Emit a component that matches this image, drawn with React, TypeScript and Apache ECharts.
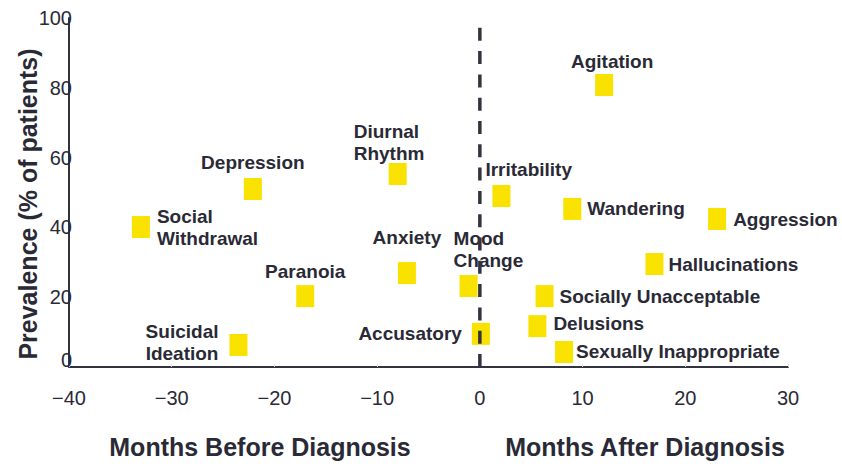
import React, { useEffect, useRef } from 'react';
import * as echarts from 'echarts';

// ---- data ----
const symptoms = [
  'Social\nWithdrawal',
  'Depression',
  'Suicidal\nIdeation',
  'Paranoia',
  'Diurnal\nRhythm',
  'Anxiety',
  'Accusatory',
  'Mood\nChange',
  'Irritability',
  'Agitation',
  'Wandering',
  'Aggression',
  'Hallucinations',
  'Socially Unacceptable',
  'Delusions',
  'Sexually Inappropriate',
];
const monthsFromDiagnosis = [-33.0, -22.1, -23.5, -17.0, -8.0, -7.1, 0.1, -1.1, 2.1, 12.1, 9.0, 23.1, 17.0, 6.3, 5.6, 8.2];
const prevalencePct = [40.1, 51.0, 6.3, 20.3, 55.3, 26.9, 9.5, 23.2, 49.0, 80.8, 45.3, 42.4, 29.5, 20.3, 11.7, 4.3];
const xRange = [-40, 30];
const yRange = [0, 100];
const diagnosisMonth = 0;
const xAxisTitles = ['Months Before Diagnosis', 'Months After Diagnosis'];
const yAxisTitle = 'Prevalence (% of patients)';

// ---- label placement (style only) ----
const labelPlacement: Record<string, any> = {
  'Social\nWithdrawal': { position: 'right', distance: 7 },
  Depression: { position: 'top', distance: 5 },
  'Suicidal\nIdeation': { position: 'left', distance: 11, offset: [0, -3] },
  Paranoia: { position: 'top', distance: 3 },
  'Diurnal\nRhythm': { position: [-35, 1], align: 'left', verticalAlign: 'bottom' },
  Anxiety: { position: 'top', distance: 14 },
  Accusatory: { position: 'left', distance: 10 },
  'Mood\nChange': { position: [-6, -4], align: 'left', verticalAlign: 'bottom' },
  Irritability: { position: [-7, -4], align: 'left', verticalAlign: 'bottom' },
  Agitation: { position: [17, -2], align: 'center', verticalAlign: 'bottom' },
  Wandering: { position: 'right', distance: 6 },
  Aggression: { position: 'right', distance: 7 },
  Hallucinations: { position: 'right', distance: 5 },
  'Socially Unacceptable': { position: 'right', distance: 6 },
  Delusions: { position: 'right', distance: 7, offset: [0, -3] },
  'Sexually Inappropriate': { position: 'right', distance: 3 },
};

const FONT = "'Liberation Sans', Arial, Helvetica, sans-serif";
const TEXT = '#2a2a36';
const AXIS = '#33333f';
const YELLOW = '#f9e100';

export default function App() {
  const ref = useRef<HTMLDivElement>(null);

  useEffect(() => {
    if (!ref.current) return;
    const chart = echarts.init(ref.current, undefined, { renderer: 'svg' });

    const points = symptoms.map((name, i) => ({
      name,
      value: [monthsFromDiagnosis[i], prevalencePct[i]],
      label: { ...labelPlacement[name] },
    }));

    const option: any = {
      animation: false,
      backgroundColor: '#ffffff',
      textStyle: { fontFamily: FONT },
      grid: { left: 69, right: 54, top: 18, bottom: 99, containLabel: false },
      xAxis: {
        type: 'value',
        min: xRange[0],
        max: xRange[1],
        interval: 10,
        splitLine: { show: false },
        axisLine: { show: true, onZero: false, lineStyle: { color: AXIS, width: 2 } },
        axisTick: { show: true, inside: true, length: 3, lineStyle: { color: '#d8d8d8', width: 1 } },
        axisLabel: {
          margin: 21,
          fontSize: 20,
          color: TEXT,
          fontFamily: FONT,
          formatter: (v: number) => `${v}`.replace('-', '\u2212'),
        },
      },
      yAxis: {
        type: 'value',
        min: yRange[0],
        max: yRange[1],
        interval: 20,
        splitLine: { show: false },
        axisLine: { show: true, onZero: false, lineStyle: { color: AXIS, width: 2 } },
        axisTick: { show: false },
        axisLabel: {
          margin: -3,
          fontSize: 20,
          color: TEXT,
          fontFamily: FONT,
          formatter: (v: number) => (v === 0 ? '{z|0}' : `${v}`),
          rich: { z: { fontSize: 20, color: TEXT, fontFamily: FONT, padding: [0, 0, 14, 0] } },
        },
      },
      series: [
        {
          type: 'scatter',
          z: 2,
          symbol: 'rect',
          symbolSize: [18, 22],
          itemStyle: { color: YELLOW, opacity: 1 },
          label: {
            show: true,
            formatter: '{b}',
            fontSize: 19,
            fontWeight: 'bold',
            color: TEXT,
            opacity: 1,
            fontFamily: FONT,
            lineHeight: 22,
          },
          emphasis: { disabled: true },
          data: points,
        },
        {
          type: 'line',
          z: 5,
          silent: true,
          symbol: 'none',
          lineStyle: { color: AXIS, width: 3.5, type: [13, 10.3], opacity: 1 },
          data: [
            [diagnosisMonth, yRange[0]],
            [diagnosisMonth, yRange[1]],
          ],
        },
      ],
      graphic: [
        {
          type: 'text',
          x: 28,
          y: 204,
          rotation: Math.PI / 2,
          style: { text: yAxisTitle, font: `bold 25px ${FONT}`, fill: TEXT, align: 'center', verticalAlign: 'middle' },
        },
        {
          type: 'text',
          x: 260,
          y: 447,
          style: { text: xAxisTitles[0], font: `bold 25px ${FONT}`, fill: TEXT, align: 'center', verticalAlign: 'middle' },
        },
        {
          type: 'text',
          x: 645,
          y: 447,
          style: { text: xAxisTitles[1], font: `bold 25px ${FONT}`, fill: TEXT, align: 'center', verticalAlign: 'middle' },
        },
      ],
    };

    chart.setOption(option);
    return () => chart.dispose();
  }, []);

  return (
    <div
      ref={ref}
      style={{ position: 'absolute', left: 0, top: 0, width: 842, height: 466, background: '#fff' }}
    />
  );
}
